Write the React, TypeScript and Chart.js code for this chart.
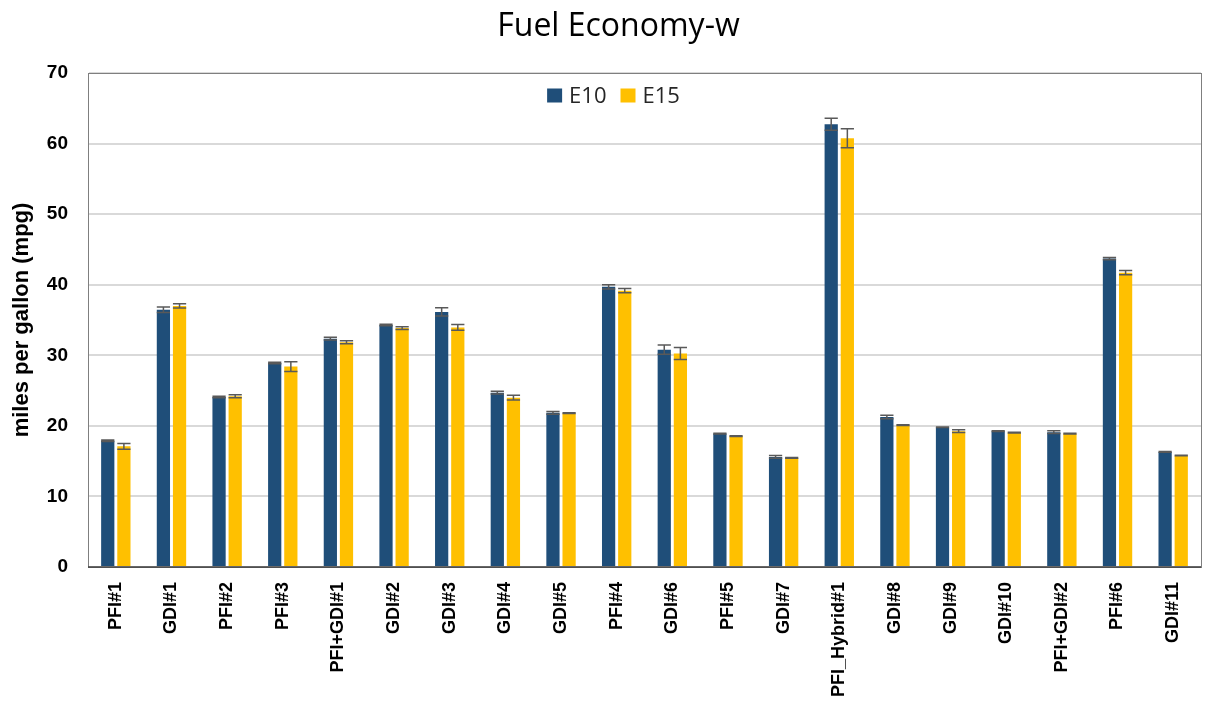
import React, { useEffect, useRef } from "react";
import { Chart, registerables } from "chart.js";

Chart.register(...registerables);

const chartTitle = "Fuel Economy-w";
const categories = [
  "PFI#1", "GDI#1", "PFI#2", "PFI#3", "PFI+GDI#1", "GDI#2", "GDI#3", "GDI#4", "GDI#5", "PFI#4",
  "GDI#6", "PFI#5", "GDI#7", "PFI_Hybrid#1", "GDI#8", "GDI#9", "GDI#10", "PFI+GDI#2", "PFI#6", "GDI#11",
];
const e10Values = [17.9, 36.45, 24.1, 28.9, 32.35, 34.3, 36.15, 24.7, 21.85, 39.7, 30.8, 18.9, 15.6, 62.75, 21.25, 19.8, 19.25, 19.1, 43.7, 16.3];
const e10Errors = [0.1, 0.4, 0.1, 0.1, 0.2, 0.1, 0.6, 0.2, 0.2, 0.3, 0.65, 0.05, 0.2, 0.85, 0.25, 0.05, 0.05, 0.2, 0.15, 0.05];
const e15Values = [17.1, 37.0, 24.2, 28.4, 31.85, 33.85, 33.95, 24.0, 21.8, 39.15, 30.25, 18.55, 15.45, 60.75, 20.1, 19.25, 19.05, 18.9, 41.7, 15.8];
const e15Errors = [0.4, 0.3, 0.2, 0.7, 0.2, 0.2, 0.4, 0.35, 0.05, 0.3, 0.85, 0.05, 0.05, 1.35, 0.05, 0.2, 0.05, 0.05, 0.3, 0.05];
const yTicks = [0, 10, 20, 30, 40, 50, 60, 70];

const errorsByDataset = [e10Errors, e15Errors];
const valuesByDataset = [e10Values, e15Values];

const errorBarPlugin = {
  id: "errorBars",
  afterDatasetsDraw(chart: any) {
    const ctx = chart.ctx;
    const yScale = chart.scales.y;
    ctx.save();
    ctx.strokeStyle = "#595959";
    ctx.lineWidth = 1.5;
    chart.data.datasets.forEach((_ds: any, di: number) => {
      const meta = chart.getDatasetMeta(di);
      meta.data.forEach((el: any, i: number) => {
        const v = valuesByDataset[di][i];
        const e = errorsByDataset[di][i];
        const yTop = yScale.getPixelForValue(v + e);
        const yBot = yScale.getPixelForValue(v - e);
        const half = (el.width || 13) / 2;
        ctx.beginPath();
        ctx.moveTo(el.x, yTop);
        ctx.lineTo(el.x, yBot);
        ctx.moveTo(el.x - half, yTop);
        ctx.lineTo(el.x + half, yTop);
        ctx.moveTo(el.x - half, yBot);
        ctx.lineTo(el.x + half, yBot);
        ctx.stroke();
      });
    });
    ctx.restore();
  },
};

const frameBorderPlugin = {
  id: "frameBorder",
  afterDraw(chart: any) {
    const { ctx, chartArea } = chart;
    ctx.save();
    ctx.strokeStyle = "#7f7f7f";
    ctx.lineWidth = 1;
    ctx.strokeRect(chartArea.left + 0.5, chartArea.top + 0.5, chartArea.right - chartArea.left, chartArea.bottom - chartArea.top);
    ctx.strokeStyle = "#404040";
    ctx.lineWidth = 1.5;
    ctx.beginPath();
    ctx.moveTo(chartArea.left, chartArea.bottom);
    ctx.lineTo(chartArea.right, chartArea.bottom);
    ctx.stroke();
    ctx.restore();
  },
};

const titlePlugin = {
  id: "offsetTitle",
  afterDraw(chart: any) {
    const { ctx, chartArea } = chart;
    ctx.save();
    ctx.font = "32px 'Open Sans', 'Noto Sans', sans-serif";
    ctx.fillStyle = "#000000";
    ctx.textAlign = "center";
    ctx.textBaseline = "middle";
    ctx.fillText(chartTitle, (chartArea.left + chartArea.right) / 2 - 26, 27);
    ctx.restore();
  },
};

const insideLegendPlugin = {
  id: "insideLegend",
  afterDraw(chart: any) {
    const { ctx, chartArea } = chart;
    const font = "22px 'Open Sans', 'Noto Sans', sans-serif";
    const box = 15;
    const gapBoxText = 7;
    const gapItems = 14;
    ctx.save();
    ctx.font = font;
    const items = chart.data.datasets.map((ds: any) => ({
      label: ds.label,
      color: ds.backgroundColor,
      w: ctx.measureText(ds.label).width,
    }));
    const cx = (chartArea.left + chartArea.right) / 2 - 31;
    const total = items.reduce((s: number, it: any) => s + box + gapBoxText + it.w, 0) + gapItems * (items.length - 1);
    let x = cx - total / 2;
    const cy = chartArea.top + 23;
    ctx.textBaseline = "middle";
    ctx.textAlign = "left";
    items.forEach((it: any) => {
      ctx.fillStyle = it.color;
      ctx.fillRect(x, cy - box / 2, box, box - 1);
      x += box + gapBoxText;
      ctx.fillStyle = "#262626";
      ctx.fillText(it.label, x, cy + 1);
      x += it.w + gapItems;
    });
    ctx.restore();
  },
};

export default function App() {
  const canvasRef = useRef<HTMLCanvasElement | null>(null);

  useEffect(() => {
    if (!canvasRef.current) return;
    const chart = new Chart(canvasRef.current, {
      type: "bar",
      data: {
        labels: categories,
        datasets: [
          {
            label: "E10",
            data: e10Values,
            backgroundColor: "#1F4E79",
            barPercentage: 0.82,
            categoryPercentage: 0.58,
          },
          {
            label: "E15",
            data: e15Values,
            backgroundColor: "#FFC000",
            barPercentage: 0.82,
            categoryPercentage: 0.58,
          },
        ],
      },
      options: {
        animation: false,
        responsive: false,
        maintainAspectRatio: false,
        layout: { padding: { top: 73, left: 6, right: 8, bottom: 0 } },
        plugins: {
          title: { display: false },
          legend: { display: false },
          tooltip: { enabled: false },
        },
        scales: {
          x: {
            grid: { display: false },
            border: { display: false },
            ticks: {
              minRotation: 90,
              maxRotation: 90,
              color: "#000000",
              padding: 7,
              font: { family: "'Liberation Sans', Arial, sans-serif", size: 18, weight: "bold" },
            },
            afterFit(scale: any) {
              scale.height = 139;
            },
          },
          y: {
            min: 0,
            max: 70,
            afterBuildTicks(scale: any) {
              scale.ticks = yTicks.map((v) => ({ value: v }));
            },
            grid: { color: "#d9d9d9", lineWidth: 2, drawTicks: false },
            border: { display: true, color: "#7f7f7f", width: 1 },
            ticks: {
              color: "#000000",
              padding: 20,
              font: { family: "'Liberation Sans', Arial, sans-serif", size: 19, weight: "bold" },
            },
            title: {
              display: true,
              text: "miles per gallon (mpg)",
              color: "#000000",
              font: { family: "'Liberation Sans', Arial, sans-serif", size: 22, weight: "bold" },
              padding: { top: 3, bottom: 0 },
            },
            afterFit(scale: any) {
              scale.width = 82;
            },
          },
        },
      },
      plugins: [errorBarPlugin, frameBorderPlugin, titlePlugin, insideLegendPlugin],
    });
    return () => chart.destroy();
  }, []);

  return (
    <div style={{ position: "fixed", left: 0, top: 0, width: 1209, height: 706, background: "#ffffff" }}>
      <canvas ref={canvasRef} width={1209} height={706} style={{ width: 1209, height: 706 }} />
    </div>
  );
}
